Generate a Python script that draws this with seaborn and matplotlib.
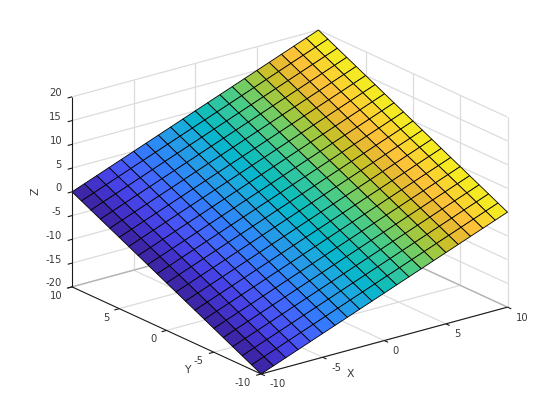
import numpy as np
import matplotlib
matplotlib.use("Agg")
import matplotlib.pyplot as plt
from mpl_toolkits.mplot3d import proj3d
import seaborn as sns

# ---- data ----
x_values = [-10, -9, -8, -7, -6, -5, -4, -3, -2, -1, 0, 1, 2, 3, 4, 5, 6, 7, 8, 9, 10]
y_values = [-10, -9, -8, -7, -6, -5, -4, -3, -2, -1, 0, 1, 2, 3, 4, 5, 6, 7, 8, 9, 10]
z_along_x = [-10, -9, -8, -7, -6, -5, -4, -3, -2, -1, 0, 1, 2, 3, 4, 5, 6, 7, 8, 9, 10]
z_along_y = [-10, -9, -8, -7, -6, -5, -4, -3, -2, -1, 0, 1, 2, 3, 4, 5, 6, 7, 8, 9, 10]
x_ticks = [-10, -5, 0, 5, 10]
y_ticks = [-10, -5, 0, 5, 10]
z_ticks = [-20, -15, -10, -5, 0, 5, 10, 15, 20]
parula_anchors = [
    (0.2422, 0.1504, 0.6603), (0.2647, 0.1978, 0.7952), (0.2783, 0.2559, 0.8991),
    (0.2810, 0.3228, 0.9579), (0.2699, 0.3892, 0.9906), (0.2206, 0.4603, 0.9973),
    (0.1786, 0.5289, 0.9682), (0.1540, 0.5902, 0.9218), (0.1248, 0.6459, 0.8883),
    (0.0689, 0.6948, 0.8394), (0.0067, 0.7312, 0.7660), (0.1408, 0.7584, 0.6842),
    (0.2161, 0.7843, 0.5923), (0.3406, 0.8008, 0.4789), (0.5044, 0.7993, 0.3480),
    (0.6720, 0.7793, 0.2227), (0.8203, 0.7498, 0.1535), (0.9393, 0.7288, 0.2100),
    (0.9970, 0.7659, 0.2199), (0.9786, 0.8386, 0.1766), (0.9597, 0.9135, 0.1423),
    (0.9769, 0.9839, 0.0805),
]

W, H = 560, 420
sns.set_theme(style="white", font="DejaVu Sans")
plt.rcParams["font.family"] = ["DejaVu Sans"]
cmap = sns.blend_palette(parula_anchors, as_cmap=True)

X, Y = np.meshgrid(x_values, y_values)
Z = np.add.outer(z_along_y, z_along_x)
face_colors = cmap((X - X.min()) / (X.max() - X.min()))

fig = plt.figure(figsize=(W / 100, H / 100), dpi=100, facecolor="white")
ax = fig.add_axes([0.1, 0.1, 0.7, 0.7 * W / H], projection="3d", computed_zorder=False)
ax.set_proj_type("ortho")
ax.view_init(elev=20.7, azim=-127.5)
ax.set_box_aspect((1, 1, 0.654), zoom=1)
ax.set_xlim(-10, 10, view_margin=0)
ax.set_ylim(-10, 10, view_margin=0)
ax.set_zlim(-20, 20, view_margin=0)
ax.set_axis_off()

xa, xb = min(x_ticks), max(x_ticks)
ya, yb = min(y_ticks), max(y_ticks)
za, zb = min(z_ticks), max(z_ticks)


def seg(p, q, color, lw, zorder):
    ax.plot([p[0], q[0]], [p[1], q[1]], [p[2], q[2]], color=color, lw=lw,
            zorder=zorder, clip_on=False, solid_capstyle="butt")


GRID = "#dcdcdc"
EDGE = "#b2b2b2"
AXIS = "#1a1a1a"
for z in z_ticks:
    seg((xa, yb, z), (xb, yb, z), GRID, 0.9, 1)
    seg((xb, yb, z), (xb, ya, z), GRID, 0.9, 1)
for x in x_ticks[1:]:
    seg((x, yb, za), (x, yb, zb), GRID, 0.9, 1)
    seg((x, ya, za), (x, yb, za), GRID, 0.9, 1)
for y in y_ticks[:]:
    seg((xb, y, za), (xb, y, zb), GRID, 0.9, 1)
    seg((xa, y, za), (xb, y, za), GRID, 0.9, 1)
seg((xa, yb, za), (xb, yb, za), EDGE, 0.9, 1.5)
seg((xb, yb, za), (xb, ya, za), EDGE, 0.9, 1.5)

ax.plot_surface(X, Y, Z, facecolors=face_colors, rstride=1, cstride=1, shade=False,
                edgecolor="black", linewidth=0.6, antialiased=True, zorder=2)

# axis lines and ticks
seg((xa, yb, za), (xa, ya, za), AXIS, 0.8, 3)
seg((xa, ya, za), (xb, ya, za), AXIS, 0.8, 3)
seg((xa, yb, za), (xa, yb, zb), AXIS, 0.8, 3)
for x in x_ticks:
    seg((x, ya, za), (x, ya - 0.4, za), AXIS, 0.8, 3)
for y in y_ticks:
    seg((xa, y, za), (xa - 0.4, y, za), AXIS, 0.8, 3)
for z in z_ticks:
    seg((xa, yb, z), (xa - 0.35, yb, z), AXIS, 0.8, 3)


def to_px(x, y, z):
    px, py, _ = proj3d.proj_transform(x, y, z, ax.get_proj())
    dx, dy = ax.transData.transform((px, py))
    return np.array([dx, H - dy])


# fit the axes box so that the plot box lands where the reference has it
target_a = np.array([72.0, 287.0])
target_c = np.array([507.5, 307.0])
size = 0.7 * W
left, bottom = 0.1 * W, 0.1 * H
for _ in range(3):
    ax.set_position([left / W, bottom / H, size / W, size / H])
    ax.apply_aspect()
    a, c = to_px(xa, yb, za), to_px(xb, ya, za)
    size *= (target_c[0] - target_a[0]) / (c[0] - a[0])
    ax.set_position([left / W, bottom / H, size / W, size / H])
    ax.apply_aspect()
    a, c = to_px(xa, yb, za), to_px(xb, ya, za)
    mid = (a + c) / 2
    want = (target_a + target_c) / 2
    left += want[0] - mid[0]
    bottom -= want[1] - mid[1]
ax.set_position([left / W, bottom / H, size / W, size / H])
ax.apply_aspect()

TEXT = "#3a3a3a"
FS = 7.2


def label(px, s, ha="center", va="center", rotation=0, fs=FS):
    fig.text(px[0] / W, 1 - px[1] / H, s, ha=ha, va=va, color=TEXT, fontsize=fs,
             rotation=rotation)


for x in x_ticks:
    label(to_px(x, ya, za) + (8.5, 10.5), str(x), ha="left")
for y in y_ticks:
    label(to_px(xa, y, za) + (-10, 9), str(y), ha="right")
for z in z_ticks:
    label(to_px(xa, yb, z) + (-10, -3.5), str(z), ha="right")
label(to_px(0, ya, za) + (-34, 33), "X", fs=7.8)
label(to_px(xa, 0, za) + (21, 40), "Y", fs=7.8)
label(to_px(xa, yb, 0) + (-37, -1), "Z", rotation=90, fs=7.8)

fig.savefig("out.png", dpi=100, facecolor="white")
